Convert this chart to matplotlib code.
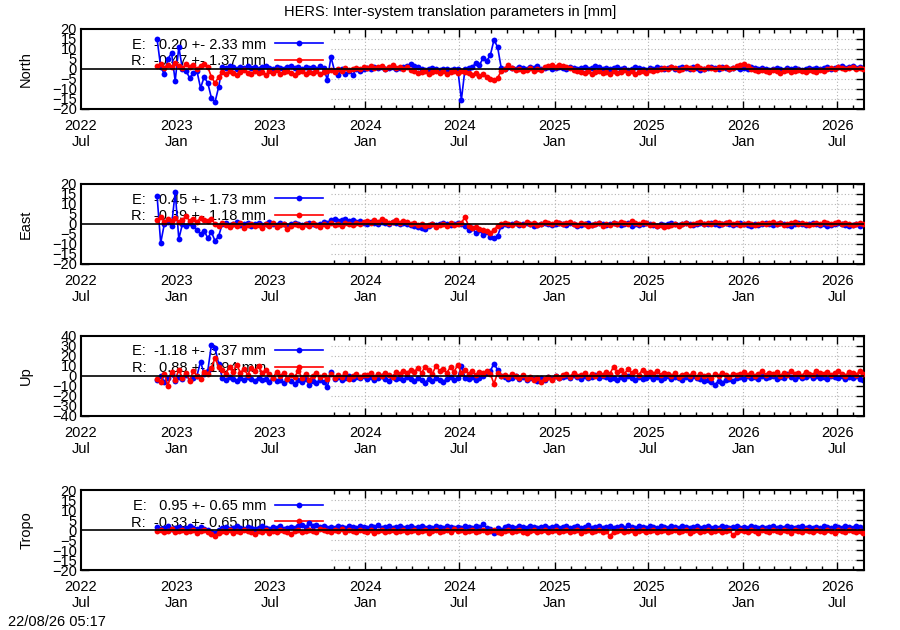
import numpy as np
import pandas as pd
import matplotlib
matplotlib.use('Agg')
import matplotlib.pyplot as plt
import matplotlib.dates as mdates
from matplotlib.patches import Rectangle

plt.rcParams['font.family'] = ['Liberation Sans', 'DejaVu Sans']

# weekly samples (first epoch 2022-11-25)
dates = pd.date_range('2022-11-25', periods=196, freq='7D')

north_e = [
    15, 1, -2.5, 5, 8, -6, 11, 0, -1, -4.5, -2, -1, -9.5, -4,
    -7, -14.5, -16.5, -9, 1, 0.5, 1.5, 1, 0, 1, 0.5, 1.5, 0.5, 1,
    0, 1, 1.5, 0.5, 0, 1, 0.5, 0, 1, 1.5, 0.5, 1, 0, 1,
    0.5, 1, 0, 1.5, 0.5, -5.5, 6, -1, -3, 0, -2.5, -1, -3, 0,
    -1, 0, 0.5, 0, 1, 0.5, 1, 0, 0.5, 1, 0, 0.5, 1, 1.5,
    2.5, 1.5, 1, 0, -0.5, 0, 0.5, 0, -0.5, 0, 0, -0.5, 0, 0,
    -15.5, 0, 0.5, 1, 3, 2, 5.5, 4, 7, 14.5, 11, 0.5, 0, 1,
    0.5, 0, 1, 0.5, 0, 1, 0.5, 1.5, 0, 0.5, 1, 0, 0.5, 1,
    0.5, 0, 1, 0.5, 0, 0.5, 1, 0, 0.5, 1.5, 1, 0, 0.5, 0,
    0.5, 1, 0, 0.5, -0.5, 0, 1, 0.5, 0, -0.5, 0.5, 0, 1, 0.5,
    0, 0.5, 1, 0, 0.5, 1, 0.5, 0, 1, 0.5, -0.5, 0, 0.5, 1,
    0.5, 0, 1, 0.5, 0, 0.5, 1, 0, 0.5, 0, 1, 0.5, 0, 0.5,
    0, -0.5, 0, 0.5, 0, -0.5, 0.5, 0, 0.5, 0, -0.5, 0, 0.5, 0,
    0.5, 0, 0.5, 1, 0, 0.5, 1, 1.5, 0.5, 1, 1.5, 0.5, 1, 0.5,
]
north_r = [
    1.5, 2.5, 0.5, 2, 1, 3, 1.5, 0.5, 2.5, 1, 2, 0, 1.5, 2.5,
    1, -4, -7, -4, -1.5, -2.5, -1, -2, -3, -1.5, -0.5, -2, -2.5, -1,
    -2, -1.5, -3, -1, -2, -0.5, -2.5, -1.5, -1, -2, -3, -1.5, -1, -2.5,
    -1.5, -2, -1, -2.5, -1.5, -1, -0.5, -1.5, 0, -1, 0.5, -0.5, 0, 0.5,
    0, 1, 0.5, 1.5, 0.5, 1, 1.5, 0, 1, 2, 0.5, 1, 0, 1,
    -0.5, -1, -2, -1.5, -1, -2.5, -1.5, -1, -2, -1, -2.5, -1.5, -1, -2,
    -1, -1.5, -2, -3, -2, -3.5, -2.5, -4, -5, -5.5, -4.5, -1, 0, 2,
    0.5, -0.5, 0, -1, -0.5, 0.5, -1, 0, -0.5, 1, 1.5, 2, 1, 2,
    1.5, 1, 0.5, -0.5, -1, -1.5, -2, -1, -2.5, -1.5, -1, -2, -1.5, -2.5,
    -1, -2, -1.5, -0.5, -2, -1, -2.5, -1.5, -1, -2, -0.5, -1, -0.5, 0,
    0.5, 0, 1, 0.5, -0.5, 0, 1, 0.5, 0, 1.5, 0.5, 0, 1, 0.5,
    0, 1, 0.5, 1, 0, 0.5, 1.5, 2, 2.5, 1.5, 0, -0.5, -1, -0.5,
    -1, -1.5, -0.5, -1, -2, -1, -0.5, -1.5, -1, -0.5, -1, -1.5, -0.5, -1,
    -1.5, -0.5, -1, 0, 0.5, 0, 1, 0.5, 0, 0.5, 1, 0, 0.5, 0,
]
east_e = [
    14, -9.5, 0, 1, -1, 16, -7.5, 0, -1, 0.5, -1, -3, -5, -3.5,
    -7, -4, -8.5, -6, 0, 0.5, -0.5, 0, 1, -0.5, 0, 0.5, -1, 0,
    0.5, -0.5, 0, 1, 0, -0.5, 0.5, 0, -1, 0, 0.5, 0, -0.5, 0,
    0.5, 0, -0.5, 0, 1, 0.5, 2, 2.5, 1.5, 2, 2.5, 1.5, 2, 1,
    1.5, 0.5, 0, 1, 0.5, 0, 1, 0.5, 0, 1, 0.5, 0, 0.5, 0,
    -0.5, -1, -1.5, -2, -2.5, -1, 0, -0.5, 0, 0.5, 0, -0.5, 0, 0.5,
    0, -1, -3, -2, -4.5, -3, -5.5, -4, -6.5, -7, -6, -1, 0, -0.5,
    0, 0.5, -0.5, 0, 0.5, 0, -1, -0.5, 0, 0.5, 0, -0.5, 0, 0.5,
    0, -0.5, 0.5, 0, -1, -0.5, 0, 0.5, -0.5, 0, 0.5, 0, -0.5, 0,
    0.5, 0, -0.5, 0, 0.5, -1, 0, -0.5, 0, 0.5, 0, -0.5, -1, 0,
    -0.5, 0, 0.5, 0, -0.5, 0, 0.5, 0, -0.5, 0, 0.5, 0, 0, 0.5,
    0, -0.5, 0, 0.5, 0, -0.5, 0, 0.5, 0, -0.5, -1, 0, -0.5, 0,
    0.5, 0, -0.5, 0, 0.5, 0, -0.5, -1, 0, 0.5, 0, -0.5, 0, 0.5,
    0, -0.5, 0, -1, -0.5, 0, 0.5, 0, -0.5, -1, -0.5, 0, -1, -0.5,
]
east_r = [
    2, 3.5, 1, 2.5, 1.5, 3, 1, 2, 4, 1.5, 2.5, 1, 3, 2,
    1.5, 2.5, 0, -1, 0.5, -0.5, -1.5, 0, -1, 0.5, -2, -0.5, 0, -1,
    -0.5, -2, 0, -1, 0.5, -1.5, -0.5, 0, -2.5, -1, 0, -0.5, -1.5, 0,
    -1, 0.5, -0.5, -1.5, 0, -1, 0.5, -0.5, 0, -1, 0.5, 0, -0.5, 0.5,
    0, 1, 1.5, 0.5, 2, 1, 2.5, 1.5, 0.5, 1, 2, 0.5, 1.5, 1,
    0, 0.5, -0.5, 0, -1, -0.5, 0, -1.5, -0.5, 0, -1, 0.5, -0.5, 0,
    0.5, 3.5, -1, -2, -1.5, -2.5, -3, -3.5, -4.5, -3, -1, 0, 0.5, 0,
    -0.5, 0.5, 0, -0.5, 1, 0, 0.5, -0.5, 0, 1, 0.5, 0, 1, 0.5,
    0, 0.5, 1, 0, -0.5, 0.5, 0, -1, -0.5, 0, 0.5, -1, 0, -0.5,
    0.5, 0, 1, 0.5, 0, 1.5, 0.5, 0, 1, 0.5, -0.5, 0, -1, -0.5,
    -1.5, -1, -0.5, 0, -1, 0, 0.5, -0.5, 0, 0.5, 1, 0, 0.5, 0,
    1, 0.5, 0, 0.5, 1, 0, 0.5, -0.5, 0, 0.5, 0, -0.5, 0, 0.5,
    0, 0.5, 1, 0, 0.5, -0.5, 0, 0.5, 1, 0, 0.5, 0, -0.5, 0,
    0.5, 0, 1, 0.5, 0, 0.5, 1, 0, 0.5, 0, -0.5, 0, 0.5, 0,
]
up_e = [
    -4, 0, -6, -2, 2, -5, -1, -3, 1, -4, -2, 0, 14, 2,
    5, 31, 28, 12, -2, -4, -1, -3, -5, -2, -4, -1, -3, -5,
    -2, -4, -3, -6, -2, -5, -4, -7, -3, -5, -8, -4, -6, -3,
    -9, -5, -7, -4, -6, -11, 4, -3, -1, -4, -2, 0, -3, -1,
    -2, 0, -3, -1, -4, -2, 0, -3, -5, -1, -3, -2, -4, -1,
    -3, -5, -2, -4, -7, -3, -5, -2, -4, -6, -3, -1, -4, -2,
    10, -2, -3, -1, -4, -2, 0, 3, 5, 12, 6, 0, -1, -3,
    -2, 0, -3, -1, -4, -2, -3, -5, -2, -4, -1, -3, 0, -2,
    -1, 0, -2, 1, -1, -3, 0, -2, -1, 1, -2, 0, -1, -3,
    -2, -4, -1, -3, 0, -2, -4, -1, -3, -2, 0, -3, -1, -4,
    -2, 0, -3, -1, -2, -4, -1, -3, 0, -2, -3, -5, -4, -6,
    -9, -5, -7, -4, -3, -5, -2, -1, -3, 0, -2, -1, -3, 0,
    -2, -1, 0, -3, -1, -2, 2, -1, -3, 0, -2, -1, 1, -2,
    0, -2, -1, -3, 0, -1, -2, 0, -3, -1, -2, 0, -3, -4,
]
up_r = [
    -3, -6, 2, -10, 4, -4, 6, -2, 3, -5, 5, 0, -3, 4,
    2, 8, 18, 9, 6, 2, 9, 4, 11, 3, 7, 1, 8, 5,
    10, 3, 6, 2, -2, 4, 0, 3, -3, 1, -1, 5, -2, 2,
    -4, 0, 3, -1, 1, -3, 2, -2, 1, -1, 3, -3, 0, 2,
    -1, 1, 1, 3, -1, 2, 0, 3, 1, -1, 4, 2, 5, 3,
    6, 4, 8, 3, 9, 6, 2, 10, 5, 7, 3, 9, 4, 11,
    3, 6, 2, 5, 1, 4, 3, 5, 2, -8, 3, 0, 1, -1,
    2, 0, -2, 1, -3, -1, -4, -2, -6, -3, -1, -4, 0, -2,
    1, 2, -1, 3, 0, 1, 3, -1, 2, 0, 3, 1, 4, 2,
    9, 4, 6, 2, 7, 3, 5, 1, 6, 3, 4, 2, 5, 1,
    3, 2, 0, 3, -1, 1, 2, 0, 3, -1, 2, 0, 1, -2,
    2, 0, 3, 1, -1, 2, 1, 2, 4, 1, 3, 0, 2, 5,
    1, 3, 2, 4, 0, 3, 1, 5, 2, 3, 0, 4, 2, 1,
    5, 3, 2, 4, 1, 3, 5, 2, 0, 4, 3, 1, 5, 2,
]
tropo_e = [
    1.5, 0.5, 1, 2, 0.5, 1, 1.5, 0.5, 1, 2, 1, 0.5, 1.5, 0.5,
    0, -1, -1.5, 0, 1, 1.5, 0.5, 1, 2, 1, 0.5, 1.5, 1, 0.5,
    1, 2, 1, 0.5, 1.5, 1, 2, 0.5, 1, 1.5, 1, 2, 2.5, 1.5,
    3.5, 2, 2.5, 1.5, 2, 1, 1.5, 1, 2, 1.5, 1, 2, 1.5, 1,
    2, 1.5, 1, 2, 1.5, 2.5, 1, 1.5, 2, 1, 1.5, 2, 1, 1.5,
    2, 1, 1.5, 2, 1, 1.5, 1, 2, 1.5, 1, 2, 1.5, 1, 1.5,
    1, 2, 1.5, 1, 2, 1.5, 3, 1, 0.5, -1.5, 1, 0, 1.5, 2,
    1.5, 1, 2, 1.5, 1, 2, 1.5, 1, 1.5, 2, 1, 1.5, 2, 1,
    1.5, 2, 1, 1.5, 2, 1, 1.5, 2.5, 1, 1.5, 2, 1, 1.5, 2,
    1, 1.5, 2, 1, 2.5, 1.5, 1, 2, 1.5, 1, 2, 1.5, 1, 2,
    1.5, 1, 2, 1.5, 1, 2, 1.5, 1, 1.5, 2, 1, 1.5, 2, 1,
    1.5, 1, 2, 1.5, 1, 1.5, 2, 1, 1.5, 1, 2, 1.5, 1, 1.5,
    1, 1.5, 2, 1, 1.5, 1, 2, 1.5, 1, 1.5, 2, 1, 1.5, 1,
    1.5, 1, 2, 1.5, 1, 2, 1.5, 1, 2, 1.5, 1, 2, 1.5, 1,
]
tropo_r = [
    -0.5, 0, -1, -0.5, 0.5, -1, -0.5, 0, -1, -0.5, 0, -1.5, -0.5, 0,
    -1, -2, -3, -1.5, -0.5, -1, 0, -1.5, -0.5, -1, 0, -0.5, -1, -2,
    -0.5, -1, 0, -1.5, -0.5, -1, 0, -0.5, -1, -2, -0.5, 0, -1, -0.5,
    0, -0.5, -1, 0.5, 0, -0.5, -1, 0, -0.5, 0.5, -1, 0, -0.5, -1,
    0, -0.5, -1, 0, -1.5, -0.5, 0, -1, -0.5, 0, -1, -0.5, 0, -1,
    -0.5, 0, -1, -0.5, 0, -1.5, -0.5, 0, -1, -0.5, 0, -1, 0.5, -0.5,
    0, -1, -0.5, 0, -1, -0.5, 0, -1, -0.5, 0, -1, -1.5, -0.5, 0,
    -1, -0.5, 0, -1, -1.5, -0.5, 0, -1, -0.5, 0, -1, -0.5, 0, -1,
    -0.5, 0, -1, -0.5, 0, -1.5, -0.5, 0, -1, -0.5, 0, -1, -0.5, -3,
    -1, -0.5, 0, -1, -0.5, 0, -1.5, -0.5, 0, -1, -0.5, 0, -1, -0.5,
    0, -1, -0.5, 0, -1, -0.5, 0, -1.5, -0.5, 0, -1, -0.5, 0, -1,
    -0.5, 0, -1, -0.5, 0, -2.5, -1, 0, -0.5, -1, 0, -0.5, -1.5, 0,
    -0.5, -1, 0, -0.5, -1, 0, -0.5, -1.5, 0, -0.5, -1, 0, -0.5, -1,
    0, -0.5, -1, 0, -0.5, -1.5, 0, -0.5, -1, 0, -0.5, -1, -0.5, -1.5,
]

panel_names = ['North', 'East', 'Up', 'Tropo']
e_series = [north_e, east_e, up_e, tropo_e]
r_series = [north_r, east_r, up_r, tropo_r]
e_labels = ['E:  -0.20 +- 2.33 mm', 'E:  -0.45 +- 1.73 mm',
            'E:  -1.18 +- 3.37 mm', 'E:   0.95 +- 0.65 mm']
r_labels = ['R:  -0.47 +- 1.37 mm', 'R:  -0.39 +- 1.18 mm',
            'R:   0.88 +- 1.94 mm', 'R:  -0.33 +- 0.65 mm']
y_limits = [20, 20, 40, 20]
y_steps = [5, 5, 10, 5]

fs = 10.5
fig = plt.figure(figsize=(9, 6.3), dpi=100)
bottoms = [0.827, 0.581, 0.340, 0.095]

for k, name in enumerate(panel_names):
    ax = fig.add_axes([0.09, bottoms[k], 0.87, 0.127])
    ax.set_axisbelow(True)
    ax.grid(True, which='major', color='#b4b4b4', linestyle=(0, (1, 2)), lw=0.8)
    # gnuplot's opaque key box hides the grid on the left part
    ax.add_patch(Rectangle((0, 0), 0.319, 1, transform=ax.transAxes,
                           facecolor='white', edgecolor='none', zorder=1))

    ax.plot(dates, e_series[k], color='blue', lw=1.2, marker='o', ms=4.2,
            mew=0, zorder=2, label=e_labels[k])
    ax.plot(dates, r_series[k], color='red', lw=1.2, marker='o', ms=4.2,
            mew=0, zorder=3, label=r_labels[k])
    ax.axhline(0, color='black', lw=1.2, zorder=4)

    lim = y_limits[k]
    ax.set_ylim(-lim, lim)
    ax.set_yticks(np.arange(-lim, lim + 1, y_steps[k]))
    ax.set_xlim(pd.Timestamp('2022-07-01'), pd.Timestamp('2026-08-22'))
    ax.xaxis.set_major_locator(mdates.MonthLocator(bymonth=[1, 7]))
    ax.xaxis.set_minor_locator(mdates.MonthLocator())
    ax.xaxis.set_major_formatter(mdates.DateFormatter('%Y\n%b'))
    ax.tick_params(which='both', direction='in', top=True, right=True,
                   labelsize=fs, width=1)
    ax.tick_params(which='major', length=6)
    ax.tick_params(which='minor', length=3)
    ax.tick_params(axis='x', pad=7)
    ax.tick_params(axis='y', pad=3)
    for sp in ax.spines.values():
        sp.set_linewidth(1.5)

    ax.set_ylabel(name, fontsize=fs)
    ax.yaxis.set_label_coords(-0.061, 0.5)

    leg = ax.legend(loc='center right', bbox_to_anchor=(0.309, 0.70),
                    frameon=False, markerfirst=False, fontsize=fs,
                    handlelength=3.3, handletextpad=0.6, labelspacing=0.2,
                    borderpad=0, borderaxespad=0)
    leg.set_zorder(1.5)

fig.text(0.5, 1 - 12 / 630, 'HERS: Inter-system translation parameters in [mm]',
         ha='center', va='center', fontsize=fs)
fig.text(8 / 900, 1 - 622 / 630, '22/08/26 05:17', ha='left', va='center',
         fontsize=fs)

fig.savefig('out.png', dpi=100)
